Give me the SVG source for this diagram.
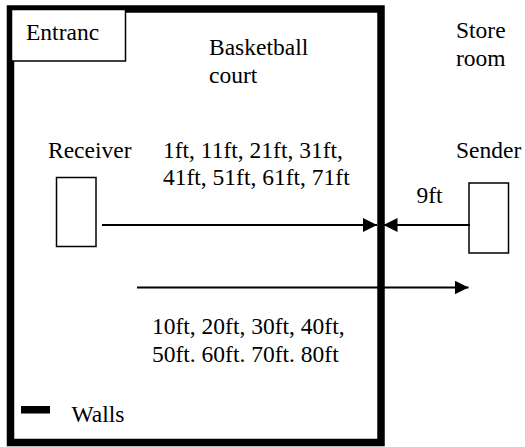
<svg xmlns="http://www.w3.org/2000/svg" width="525" height="447" viewBox="0 0 525 447">
<style>
.box{fill:#fff;stroke:#000;stroke-width:1.5}
.ln{stroke:#000;stroke-width:2;fill:none}
</style>
<defs>
<marker id="ah" markerWidth="14" markerHeight="14" refX="14" refY="7" orient="auto" markerUnits="userSpaceOnUse">
<path d="M0,0 L14,7 L0,14 Z" fill="#000"/>
</marker>
</defs>
<rect width="525" height="447" fill="#fff"/>
<g id="walls">
<rect x="10.5" y="9" width="370.5" height="433.5" fill="none" stroke="#000" stroke-width="7.5"/>
</g>
<g id="entrance">
<rect class="box" x="11.5" y="9.5" width="114" height="51.5"/>
<text font-family="Times New Roman" font-size="23.5" x="26" y="39.5">Entranc</text>
</g>
<g id="court">
<text font-family="Times New Roman" font-size="23.5" x="209" y="55">Basketball</text>
<text font-family="Times New Roman" font-size="23.5" x="209" y="82.5">court</text>
</g>
<g id="storeroom">
<text font-family="Times New Roman" font-size="23.5" x="456" y="38">Store</text>
<text font-family="Times New Roman" font-size="23.5" x="456" y="65.5">room</text>
</g>
<g id="receiver">
<text font-family="Times New Roman" font-size="23.5" x="48" y="157.7">Receiver</text>
<rect class="box" x="56.5" y="177.5" width="39.5" height="69"/>
</g>
<g id="sender">
<text font-family="Times New Roman" font-size="23.5" x="456" y="157.7">Sender</text>
<rect class="box" x="469" y="183" width="39.5" height="70"/>
</g>
<g id="connectors">
<line class="ln" x1="102" y1="225" x2="377" y2="225" marker-end="url(#ah)"/>
<line class="ln" x1="470" y1="225" x2="383.5" y2="225" marker-end="url(#ah)"/>
<line class="ln" x1="137" y1="287.5" x2="468.5" y2="287.5" marker-end="url(#ah)"/>
</g>
<g id="labels">
<text font-family="Times New Roman" font-size="23.5" x="163" y="158">1ft, 11ft, 21ft, 31ft,</text>
<text font-family="Times New Roman" font-size="23.5" x="163" y="185">41ft, 51ft, 61ft, 71ft</text>
<text font-family="Times New Roman" font-size="23.5" x="416.5" y="203">9ft</text>
<text font-family="Times New Roman" font-size="23.5" x="152" y="334.3">10ft, 20ft, 30ft, 40ft,</text>
<text font-family="Times New Roman" font-size="23.5" x="152" y="361.7">50ft. 60ft. 70ft. 80ft</text>
</g>
<g id="legend">
<rect x="21" y="406" width="29" height="7.5" fill="#000"/>
<text font-family="Times New Roman" font-size="23.5" x="71.5" y="421.7">Walls</text>
</g>
</svg>
